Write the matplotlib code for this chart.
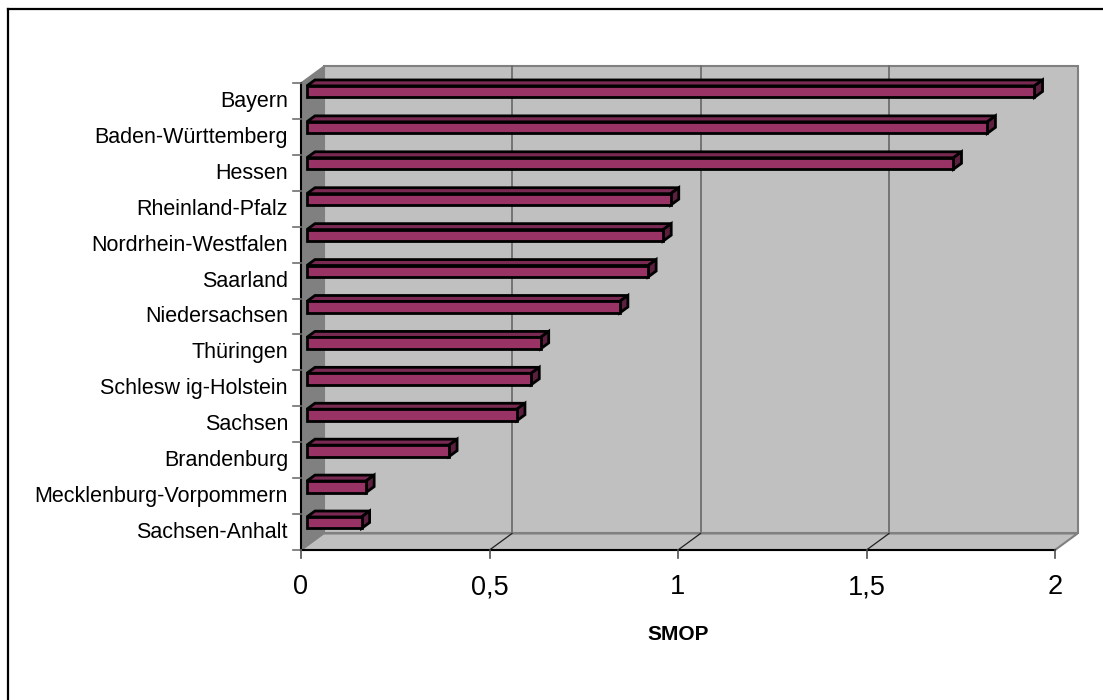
import matplotlib
matplotlib.use("Agg")
import matplotlib.pyplot as plt
from matplotlib.patches import Polygon
from matplotlib.lines import Line2D

plt.rcParams['font.family'] = ['Liberation Sans', 'DejaVu Sans']

# ---- data (top to bottom as displayed) ----
categories = ["Bayern", "Baden-Württemberg", "Hessen", "Rheinland-Pfalz",
              "Nordrhein-Westfalen", "Saarland", "Niedersachsen", "Thüringen",
              "Schlesw ig-Holstein", "Sachsen", "Brandenburg",
              "Mecklenburg-Vorpommern", "Sachsen-Anhalt"]
values = [1.93, 1.805, 1.715, 0.965, 0.945, 0.905, 0.83, 0.62, 0.595, 0.557,
          0.377, 0.157, 0.145]
xticks = [0, 0.5, 1, 1.5, 2]
xticklabels = ["0", "0,5", "1", "1,5", "2"]
xlabel = "SMOP"

W, H = 1103, 700
fig = plt.figure(figsize=(W / 100, H / 100), dpi=100)
fig.patch.set_facecolor("white")

# front plane in pixels: x 301..1055, y 83..550 (from top)
ax = fig.add_axes([301 / W, (H - 550) / H, 754 / W, 467 / H])
n = len(categories)
XMAX = 2.0
ax.set_xlim(0, XMAX)
ax.set_ylim(0, n)
ax.axis("off")

DX = 22.5 / 377.0     # depth offset in value units
DY = 16.5 / 35.92     # depth offset in category units
pxx = XMAX / 754.0    # one pixel in x data units
pxy = n / 467.0       # one pixel in y data units

def poly(pts, fc, ec, lw, z):
    p = Polygon(pts, closed=True, facecolor=fc, edgecolor=ec, linewidth=lw,
                clip_on=False, zorder=z, joinstyle="miter")
    ax.add_patch(p)

# back wall
poly([(DX, DY), (XMAX + DX, DY), (XMAX + DX, n + DY), (DX, n + DY)],
     "#c0c0c0", "#808080", 1.5, 1)
# gridlines on back wall
for t in xticks[1:-1]:
    ax.add_line(Line2D([t + DX, t + DX], [DY, n + DY], color="#6e6e6e",
                       lw=1.3, clip_on=False, zorder=2))
# left wall
poly([(0, 0), (DX, DY), (DX, n + DY), (0, n)], "#808080", "#808080", 1.0, 3)
# floor
poly([(0, 0), (XMAX, 0), (XMAX + DX, DY), (DX, DY)], "#c0c0c0", "#808080", 1.5, 3)
# floor gridlines
for t in xticks[1:-1]:
    ax.add_line(Line2D([t, t + DX], [0, DY], color="#202020", lw=0.9,
                       clip_on=False, zorder=4))
# axes lines
ax.add_line(Line2D([0, XMAX], [0, 0], color="black", lw=1.5, clip_on=False, zorder=5))
ax.add_line(Line2D([0, 0], [0, n], color="black", lw=1.5, clip_on=False, zorder=5))
# y ticks
for k in range(n + 1):
    ax.add_line(Line2D([-8 * pxx, 0], [k, k], color="#707070", lw=1.2,
                       clip_on=False, zorder=5))
# x ticks + labels
for t, lab in zip(xticks, xticklabels):
    ax.add_line(Line2D([t, t], [0, -8 * pxy], color="#505050", lw=1.2,
                       clip_on=False, zorder=5))
    ax.text(t, -44 * pxy, lab, ha="center", va="baseline", fontsize=19.5,
            color="black")

# bars (3D)
f1, f2 = 0.26, 0.62
yb, yt = 0.48, 0.80
ddx = (f2 - f1) * DX
ddy = (f2 - f1) * DY
for idx, (cat, v) in enumerate(zip(categories, values)):
    i = n - 1 - idx
    x0 = f1 * DX
    x1 = v + f1 * DX
    y0 = i + yb + f1 * DY
    y1 = i + yt + f1 * DY
    z = 10 + i
    # top face
    poly([(x0, y1), (x1, y1), (x1 + ddx, y1 + ddy), (x0 + ddx, y1 + ddy)],
         "#7a2a52", "black", 2.0, z)
    # side face
    poly([(x1, y0), (x1 + ddx, y0 + ddy), (x1 + ddx, y1 + ddy), (x1, y1)],
         "#5c1f3f", "black", 2.0, z)
    # front face
    poly([(x0, y0), (x1, y0), (x1, y1), (x0, y1)], "#993366", "black", 2.0, z)
    # category label
    ax.text(-13 * pxx, i + 0.5 - 6.0 * pxy, cat, ha="right", va="baseline",
            fontsize=15.5, color="black")

# axis title
ax.text(1.0, -90 * pxy, xlabel, ha="center", va="baseline", fontsize=15,
        fontweight="bold", color="black")

# chart border (top and left visible)
fig.add_artist(Line2D([8 / W, 1.0], [(H - 9) / H, (H - 9) / H],
                      transform=fig.transFigure, color="black", lw=1.6))
fig.add_artist(Line2D([8 / W, 8 / W], [0, (H - 9) / H],
                      transform=fig.transFigure, color="black", lw=1.6))

fig.savefig("out.png", dpi=100, facecolor="white")
